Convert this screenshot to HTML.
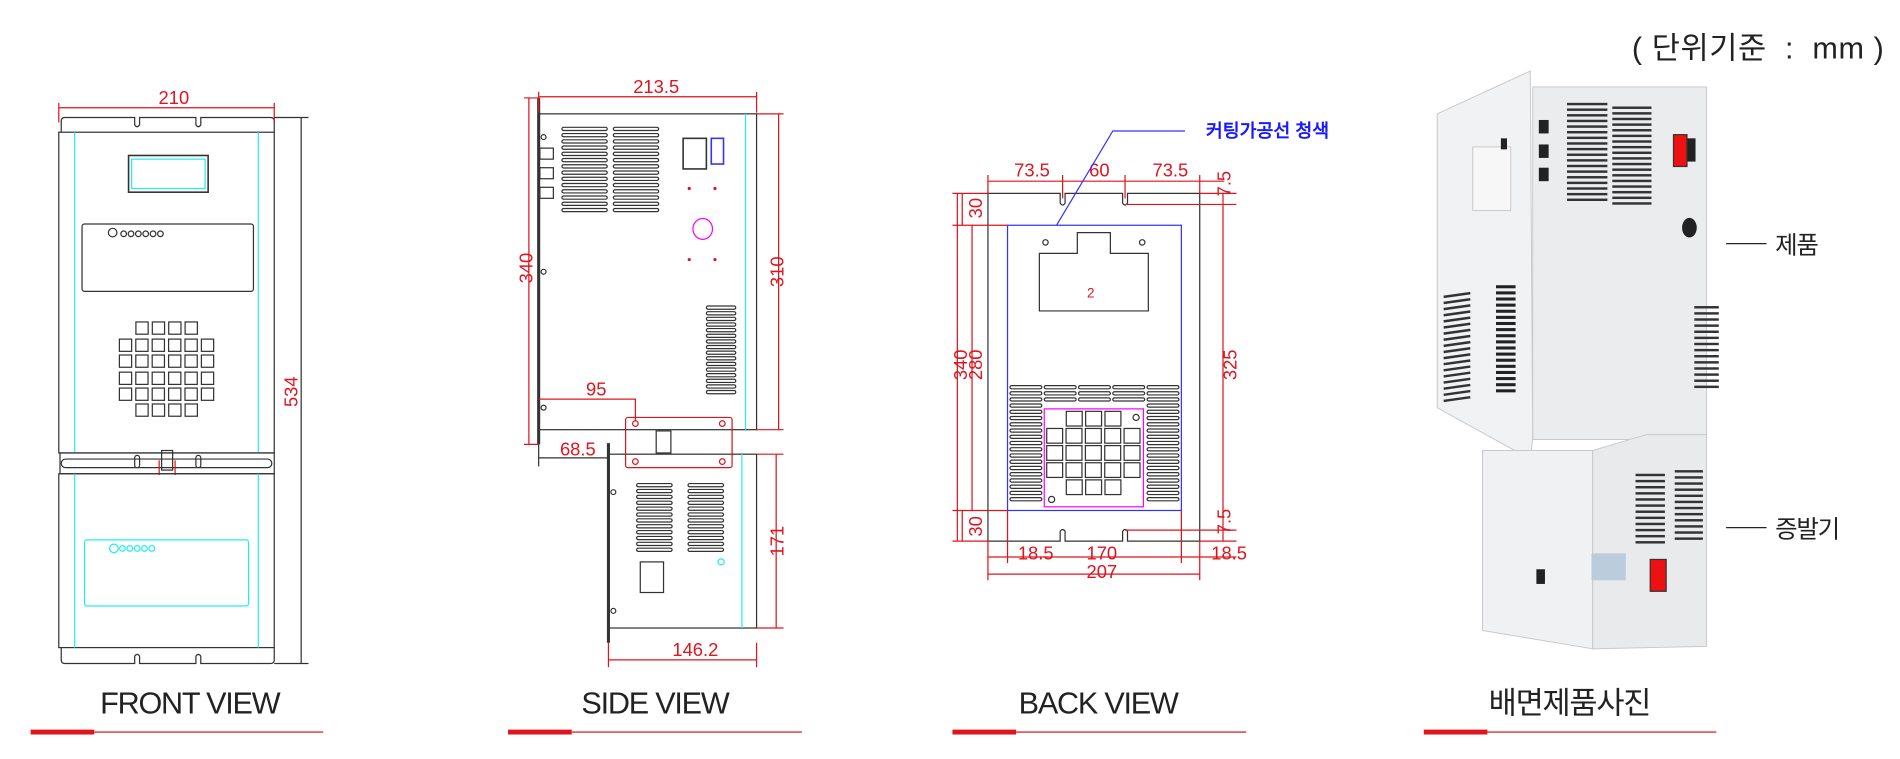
<!DOCTYPE html>
<html><head><meta charset="utf-8"><style>
html,body{margin:0;padding:0;background:#fff;}
svg{display:block;}
text{font-family:"Liberation Sans Narrow","Liberation Sans",sans-serif;}
.d{fill:#e0141e;font-size:15px;}
.t{fill:#222;font-family:"Liberation Sans","Noto Sans CJK KR",sans-serif;font-size:25px;letter-spacing:-1px;}
</style></head><body>
<svg id="s" width="1900" height="759" viewBox="0 0 1552 620" xmlns="http://www.w3.org/2000/svg">
<g fill="none" stroke="#333" stroke-width="1">
<path d="M50 108 V99 Q50 96 53 96 H110 V102 Q112 105 114 102 V96 H160 V102 Q162 105 164 102 V96 H221 Q224 96 224 99 V108"/>
<rect x="48" y="108" width="176" height="262"/>
<line x1="61" y1="108" x2="61" y2="370" stroke="#2ee"/>
<line x1="211" y1="108" x2="211" y2="370" stroke="#2ee"/>
<rect x="105" y="127" width="65" height="30" stroke-width="1.3"/>
<rect x="107.5" y="130" width="60" height="24" stroke="#2ee"/>
<rect x="67" y="183" width="140" height="55" rx="2"/>
<circle cx="92" cy="190" r="3.5"/>
<rect x="49" y="370" width="175" height="17"/>
<rect x="50" y="375" width="172" height="7" rx="3.5"/>
<rect x="110" y="372" width="4" height="10" rx="2"/><rect x="160" y="372" width="4" height="10" rx="2"/>
<rect x="132" y="368" width="9" height="16"/>
<line x1="130" y1="376" x2="130" y2="388" stroke="#e0141e"/><line x1="143" y1="376" x2="143" y2="388" stroke="#e0141e"/>
<rect x="48" y="387" width="176" height="142"/>
<line x1="61" y1="387" x2="61" y2="529" stroke="#2ee"/>
<line x1="211" y1="387" x2="211" y2="529" stroke="#2ee"/>
<rect x="69" y="441" width="134" height="54" rx="2" stroke="#2ee"/>
<circle cx="93" cy="448" r="3.5" stroke="#2ee"/>
<path d="M50 529 V539 Q50 542 53 542 H110 V536 Q112 533 114 536 V542 H160 V536 Q162 533 164 536 V542 H221 Q224 542 224 539 V529"/>
<rect x="440" y="93" width="178" height="258"/>
<line x1="609" y1="93" x2="609" y2="351" stroke="#2ee"/>
<line x1="440" y1="80" x2="440" y2="363" stroke-width="2.5"/>
<rect x="441" y="121" width="11" height="9"/><rect x="441" y="137" width="11" height="9"/><rect x="441" y="153" width="11" height="9"/>
<circle cx="444" cy="112" r="2"/><circle cx="444" cy="222" r="2"/><circle cx="444" cy="333" r="2"/>
<rect x="558" y="113" width="19" height="25" stroke-width="1.3"/>
<rect x="581" y="113" width="10" height="21" stroke="#33f" stroke-width="1.3"/>
<ellipse cx="574" cy="187" rx="8" ry="8.5" stroke="#f0f"/>
<rect x="497" y="371" width="121" height="142"/>
<line x1="606" y1="371" x2="606" y2="513" stroke="#2ee"/>
<line x1="497" y1="362" x2="497" y2="525" stroke-width="2.5"/>
<rect x="523" y="459" width="19" height="25"/>
<circle cx="589" cy="459" r="2.5" stroke="#2ee"/>
<circle cx="501" cy="402" r="2"/><circle cx="501" cy="499" r="2"/>
<rect x="536" y="352" width="12" height="18"/>
<path d="M807 158 H866 V166 Q868 169 870 166 V158 H917 V166 Q919 169 921 166 V158 H980 V442 H921 V434 Q919 431 917 434 V442 H870 V434 Q868 431 866 434 V442 H807 Z"/>
<path d="M849 254 V207 H880 V190 H907 V207 H938 V254 Z"/>
<circle cx="854" cy="198" r="2.2"/><circle cx="933" cy="198" r="2.2"/>
<circle cx="928" cy="341" r="2.5"/><circle cx="859" cy="408" r="2.5"/>
<rect x="823" y="184" width="142" height="233" stroke="#33f"/>
<rect x="853" y="334" width="81" height="80" stroke="#f0f"/>
</g>
<g stroke="#e0141e" fill="none" stroke-width="1">
<path d="M48 84 V100 M224 84 V100 M48 88 H224"/>
<path d="M224 96 H252 M224 542 H252 M246 96 V542" stroke="#333"/>
<path d="M440 75 V92 M618 75 V92 M440 79 H618"/>
<path d="M428 80 H440 M428 363 H440 M432 80 V363"/>
<path d="M618 93 H640 M618 351 H640 M636 93 V351"/>
<path d="M440 326 H519 V344"/>
<rect x="511" y="341" width="87" height="41" rx="2"/>
<circle cx="519" cy="346" r="2.3"/><circle cx="590" cy="346" r="2.3"/><circle cx="519" cy="377" r="2.3"/><circle cx="590" cy="377" r="2.3"/>
<path d="M618 371 H640 M618 513 H640 M634 371 V513"/>
<path d="M497 525 V545 M618 525 V545 M497 539 H618"/>
<path d="M807 143 V158 M868 143 V162 M919 143 V162 M980 143 V158 M807 148 H1000"/>
<path d="M778 158 H807 M778 442 H807 M782 158 V442 M778 184 H823 M786 158 V184 M794 184 V417 M778 417 H823 M786 417 V442"/>
<path d="M919 167 H1010 M999 158 V442 M919 433 H1010 M980 158 H1010 M980 442 H1010"/>
<path d="M807 442 V474 M823 417 V460 M965 417 V460 M980 442 V474 M807 455 H1010 M807 469 H980"/>
</g>
<path d="M440 363 V381 M440 374 H497" stroke="#333" fill="none"/>
<g fill="#e0141e"><circle cx="563" cy="154" r="1.3"/><circle cx="584" cy="154" r="1.3"/><circle cx="563" cy="212" r="1.3"/><circle cx="584" cy="212" r="1.3"/></g>
<g class="d">
<text x="142" y="85" text-anchor="middle">210</text>
<text transform="translate(243,320) rotate(-90)" text-anchor="middle">534</text>
<text x="536" y="76" text-anchor="middle">213.5</text>
<text transform="translate(435,219) rotate(-90)" text-anchor="middle">340</text>
<text transform="translate(640,222) rotate(-90)" text-anchor="middle">310</text>
<text x="487" y="323" text-anchor="middle">95</text>
<text x="472" y="372" text-anchor="middle">68.5</text>
<text transform="translate(640,442) rotate(-90)" text-anchor="middle">171</text>
<text x="568" y="536" text-anchor="middle">146.2</text>
<text x="843" y="144" text-anchor="middle">73.5</text>
<text x="898" y="144" text-anchor="middle">60</text>
<text x="956" y="144" text-anchor="middle">73.5</text>
<text transform="translate(1005,150) rotate(-90)" text-anchor="middle">7.5</text>
<text transform="translate(802,170) rotate(-90)" text-anchor="middle">30</text>
<text transform="translate(790,298) rotate(-90)" text-anchor="middle">340</text>
<text transform="translate(802,298) rotate(-90)" text-anchor="middle">280</text>
<text transform="translate(802,430) rotate(-90)" text-anchor="middle">30</text>
<text transform="translate(1010,298) rotate(-90)" text-anchor="middle">325</text>
<text transform="translate(1005,426) rotate(-90)" text-anchor="middle">7.5</text>
<text x="846" y="457" text-anchor="middle">18.5</text>
<text x="900" y="457" text-anchor="middle">170</text>
<text x="1004" y="457" text-anchor="middle">18.5</text>
<text x="900" y="472" text-anchor="middle">207</text>
<text x="891" y="243" text-anchor="middle" font-size="11">2</text>
</g>
<path d="M863 184 L909 107 H968" stroke="#33f" fill="none"/>
<text x="985" y="112" fill="#1a1aff" font-size="15" font-weight="bold" font-family="Liberation Sans,'Noto Sans CJK KR',sans-serif">커팅가공선 청색</text>
<g stroke="#c8c9cc" stroke-width="0.8">
<polygon points="1174,93 1250,58 1252,358 1250,375 1174,333" fill="#f1f2f4"/>
<rect x="1252" y="71" width="142" height="288" fill="#ebecee"/>
<polygon points="1211,368 1301,368 1301,530 1211,515" fill="#f0f1f3"/>
<polygon points="1301,368 1345,355 1394,355 1394,528 1301,530" fill="#e9eaec"/>
<rect x="1203" y="120" width="31" height="52" fill="#f7f7f8"/>
</g>
<g fill="#222"><rect x="1257" y="98" width="8" height="11"/><rect x="1257" y="118" width="8" height="11"/><rect x="1257" y="137" width="8" height="11"/>
<rect x="1226" y="113" width="5" height="9"/><rect x="1255" y="465" width="7" height="12"/>
<rect x="1374" y="113" width="11" height="19"/><ellipse cx="1380" cy="186" rx="6" ry="8"/></g>
<rect x="1367" y="110" width="11" height="26" fill="#e11" stroke="#333"/>
<rect x="1348" y="457" width="13" height="26" fill="#e11" stroke="#333"/>
<rect x="1300" y="452" width="28" height="22" fill="#bcd" />
<line x1="1410" y1="199" x2="1443" y2="199" stroke="#222"/>
<line x1="1410" y1="431" x2="1443" y2="431" stroke="#222"/>
<text x="1450" y="207" class="t" style="font-size:20px">제품</text>
<text x="1450" y="439" class="t" style="font-size:20px">증발기</text>
<text x="1333" y="48" class="t" style="font-size:25px;letter-spacing:0.5px" xml:space="preserve">( 단위기준  :  mm )</text>
<text x="155" y="583" class="t" text-anchor="middle">FRONT VIEW</text>
<text x="535" y="583" class="t" text-anchor="middle">SIDE VIEW</text>
<text x="897" y="583" class="t" text-anchor="middle">BACK VIEW</text>
<text x="1282" y="583" class="t" text-anchor="middle">배면제품사진</text>
<g fill="#e0141e">
<rect x="25" y="596" width="52" height="4"/><rect x="77" y="597.5" width="187" height="1"/>
<rect x="415" y="596" width="52" height="4"/><rect x="467" y="597.5" width="188" height="1"/>
<rect x="778" y="596" width="52" height="4"/><rect x="830" y="597.5" width="188" height="1"/>
<rect x="1163" y="596" width="52" height="4"/><rect x="1215" y="597.5" width="187" height="1"/>
</g>
<g id="gen"></g>
</svg>
<script>
var g=document.getElementById('gen'),h='';
function r(x,y,w,ht,st,rx,fill){h+='<rect x="'+x+'" y="'+y+'" width="'+w+'" height="'+ht+'" rx="'+(rx||0)+'" fill="'+(fill||'none')+'" stroke="'+(st||'#333')+'" stroke-width="1"/>';}
function c(x,y,rr,st){h+='<circle cx="'+x+'" cy="'+y+'" r="'+rr+'" fill="none" stroke="'+st+'"/>';}
for(var i=0;i<6;i++)c(101+i*6,191,2.3,'#333');
for(var i=0;i<5;i++)c(100+i*6,448,2.3,'#2ee');
var rows=[263,277,290,304,317,330];
rows.forEach(function(y,ri){var n=(ri==0||ri==5)?4:6;var x0=n==4?111:97.5;for(var k=0;k<n;k++)r(x0+k*13.4,y,10,10);});
function vent(x,w,y0,n,p){for(var i=0;i<n;i++)r(x,y0+i*p,w,2.6,'#333',1.3);}
vent(459,37,104,14,5.1);vent(501,37,104,14,5.1);
vent(577,24,250,16,4.6);
vent(520,29,395,12,4.8);vent(562,29,395,12,4.8);
[825,853,881,909,937].forEach(function(x){vent(x,26,315,3,5);});
vent(825,26,330,16,5.1);vent(937,26,330,16,5.1);
var by=[336,350,364,378,392];
by.forEach(function(y,ri){var n=(ri==0||ri==4)?3:5;var x0=n==3?871:855;for(var k=0;k<n;k++)r(x0+k*15.8,y,13,12);});
for(var i=0;i<18;i++){h+='<rect x="1280" y="'+(84+i*4.6)+'" width="33" height="2" fill="#333"/><rect x="1317" y="'+(87+i*4.6)+'" width="32" height="2" fill="#333"/>';}
for(var i=0;i<18;i++){h+='<rect x="1179" y="'+(240+i*5)+'" width="22" height="2" fill="#333" transform="rotate(-8 1190 '+(240+i*5)+')"/><rect x="1222" y="'+(233+i*5)+'" width="16" height="2.5" fill="#222"/>';}
for(var i=0;i<14;i++)h+='<rect x="1384" y="'+(250+i*5)+'" width="20" height="2" fill="#333"/>';
for(var i=0;i<12;i++){h+='<rect x="1336" y="'+(387+i*5)+'" width="24" height="2" fill="#333"/><rect x="1368" y="'+(384+i*5)+'" width="23" height="2" fill="#333"/>';}
g.innerHTML=h;
</script>
</body></html>
